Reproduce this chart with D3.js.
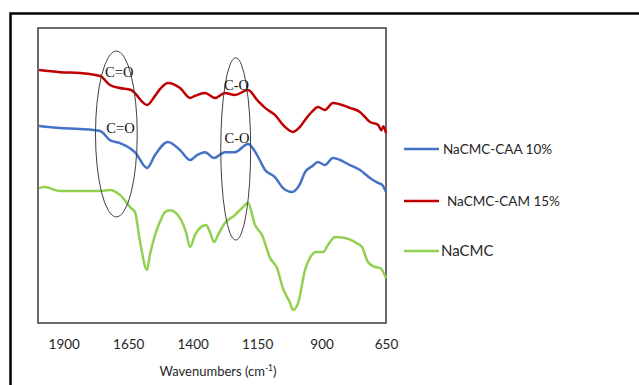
<!DOCTYPE html>
<html>
<head>
<meta charset="utf-8">
<script src="https://cdn.jsdelivr.net/npm/d3@7"></script>
<style>
  body { margin: 0; background: #fff; }
  svg { display: block; }
</style>
</head>
<body>
<div id="chart"></div>
<script>
// FTIR spectra, values (arbitrary transmittance units, 0-100)
const caaWave = [1996, 1915, 1837, 1759, 1721, 1682, 1639, 1624, 1577, 1546, 1496, 1449, 1410, 1383, 1352, 1317, 1275, 1236, 1185, 1150, 1119, 1081, 1050, 1015, 984, 964, 935, 914, 887, 856, 790, 751, 712, 681, 665, 650]
const caaValues = [67.9, 67.2, 66.9, 66.2, 63.1, 62.1, 60.1, 59.0, 53.6, 58.0, 62.5, 59.7, 56.3, 58.0, 59.0, 57.0, 59.0, 59.0, 61.8, 58.0, 52.9, 50.5, 46.8, 45.4, 48.1, 52.2, 54.3, 55.6, 54.6, 57.0, 54.6, 52.9, 50.2, 48.5, 47.8, 45.4]

const camWave = [1996, 1915, 1837, 1759, 1721, 1682, 1639, 1577, 1546, 1527, 1496, 1449, 1410, 1391, 1352, 1313, 1275, 1236, 1185, 1150, 1119, 1081, 1042, 1011, 984, 964, 935, 914, 887, 856, 790, 751, 712, 681, 668, 660, 650]
const camValues = [87.0, 86.3, 86.0, 85.0, 81.9, 80.9, 80.2, 75.1, 78.2, 80.5, 82.6, 80.9, 77.5, 78.2, 79.2, 77.5, 79.2, 78.5, 80.2, 76.8, 74.1, 71.7, 67.6, 65.9, 67.6, 70.0, 73.0, 74.4, 73.4, 75.8, 74.1, 72.7, 69.3, 68.3, 66.5, 67.8, 65.5]

const cmcWave = [1996, 1973, 1915, 1759, 1721, 1682, 1639, 1624, 1604, 1577, 1566, 1546, 1527, 1507, 1488, 1449, 1426, 1410, 1391, 1372, 1348, 1333, 1317, 1302, 1275, 1236, 1209, 1185, 1158, 1131, 1100, 1073, 1050, 1022, 1011, 991, 964, 945, 922, 894, 875, 848, 809, 770, 743, 720, 693, 673, 650]
const cmcValues = [46.8, 47.1, 45.7, 45.7, 46.1, 44.4, 39.9, 38.6, 28.3, 18.8, 23.9, 30.7, 35.2, 38.6, 39.2, 36.5, 31.7, 26.6, 30.7, 33.1, 34.1, 31.7, 28.3, 30.7, 34.8, 37.5, 39.9, 41.6, 34.1, 30.7, 22.9, 19.5, 12.6, 7.5, 5.1, 7.5, 18.8, 22.9, 24.9, 24.9, 27.3, 30.0, 29.7, 28.3, 26.6, 21.5, 19.8, 19.5, 16.0]

const seriesNames = ["NaCMC-CAA 10%", "NaCMC-CAM 15%", "NaCMC"]
const seriesColors = ["#4472C4", "#C00000", "#92D050"]
const xTicks = [1900, 1650, 1400, 1150, 900, 650]

// band annotations: [label, wavenumber, value of label]
const bandLabels = [["C=O", 1685, 86.5], ["C=O", 1680, 67.3], ["C-O", 1230, 82.0], ["C-O", 1228, 63.8]]
// ellipses: [centre wavenumber, centre value, half width (cm-1), half height]
const bandEllipses = [[1696, 65.2, 81, 28.3], [1233, 60.1, 58, 31.1]]

const W = 639, H = 385
const MARGIN = { TOP: 28, LEFT: 38 }
const PW = 348, PH = 295

const svg = d3.select("#chart").append("svg")
  .attr("width", W)
  .attr("height", H)

// outer frame (runs off the right/bottom of the picture)
svg.append("rect")
  .attr("x", 10.5).attr("y", 13.5)
  .attr("width", 700).attr("height", 500)
  .attr("fill", "none")
  .attr("stroke", "#000")
  .attr("stroke-width", 2.5)

const g = svg.append("g")
  .attr("transform", `translate(${MARGIN.LEFT}, ${MARGIN.TOP})`)

const x = d3.scaleLinear().domain([2000, 650]).range([0, PW])
const y = d3.scaleLinear().domain([0, 100]).range([PH + 2, 4])

// plot box
g.append("rect")
  .attr("width", PW).attr("height", PH)
  .attr("fill", "none")
  .attr("stroke", "#3a3a3a")
  .attr("stroke-width", 1.5)

// x axis labels only
const xAxis = d3.axisBottom(x).tickValues(xTicks).tickFormat(d3.format("d")).tickSize(0).tickPadding(16)
const ax = g.append("g")
  .attr("transform", `translate(0, ${PH})`)
  .call(xAxis)
ax.select(".domain").remove()
ax.selectAll("text")
  .attr("font-family", "Lato, 'Open Sans', sans-serif")
  .attr("font-size", 13.5)
  .attr("fill", "#262626")

const title = svg.append("text")
  .attr("x", 218).attr("y", 376)
  .attr("text-anchor", "middle")
  .attr("font-family", "Lato, 'Open Sans', sans-serif")
  .attr("font-size", 13)
  .attr("fill", "#262626")
title.append("tspan").text("Wavenumbers (cm")
title.append("tspan").attr("font-size", 8.5).attr("dy", -5).text("-1")
title.append("tspan").attr("dy", 5).text(")")

const line = d3.line()
  .x(d => x(d[0]))
  .y(d => y(d[1]))
  .curve(d3.curveMonotoneX)

const series = [
  d3.zip(caaWave, caaValues),
  d3.zip(camWave, camValues),
  d3.zip(cmcWave, cmcValues)
]

series.forEach((s, i) => {
  g.append("path")
    .attr("fill", "none")
    .attr("stroke", seriesColors[i])
    .attr("stroke-width", 2.5)
    .attr("stroke-linejoin", "round")
    .attr("d", line(s))
})

// ellipses around bands
bandEllipses.forEach(e => {
  g.append("ellipse")
    .attr("cx", x(e[0]))
    .attr("cy", y(e[1]))
    .attr("rx", x(e[0] - e[2]) - x(e[0]))
    .attr("ry", y(0) - y(e[3]))
    .attr("fill", "none")
    .attr("stroke", "#404040")
    .attr("stroke-width", 1)
})

bandLabels.forEach(b => {
  g.append("text")
    .attr("x", x(b[1]))
    .attr("y", y(b[2]))
    .attr("dy", "0.35em")
    .attr("text-anchor", "middle")
    .attr("font-family", "'Liberation Serif', 'DejaVu Serif', serif")
    .attr("font-size", 14.5)
    .attr("fill", "#111")
    .text(b[0])
})

// legend
const legendY = [149, 201, 251]
const legendTextX = [443, 447, 441]
const legendSize = [13.5, 13.5, 15]
seriesNames.forEach((name, i) => {
  svg.append("line")
    .attr("x1", 404).attr("x2", 439)
    .attr("y1", legendY[i]).attr("y2", legendY[i])
    .attr("stroke", seriesColors[i])
    .attr("stroke-width", 2.5)
  svg.append("text")
    .attr("x", legendTextX[i])
    .attr("y", legendY[i])
    .attr("dy", "0.35em")
    .attr("font-family", "Lato, 'Open Sans', sans-serif")
    .attr("font-size", legendSize[i])
    .attr("fill", "#262626")
    .text(name)
})
</script>
</body>
</html>
